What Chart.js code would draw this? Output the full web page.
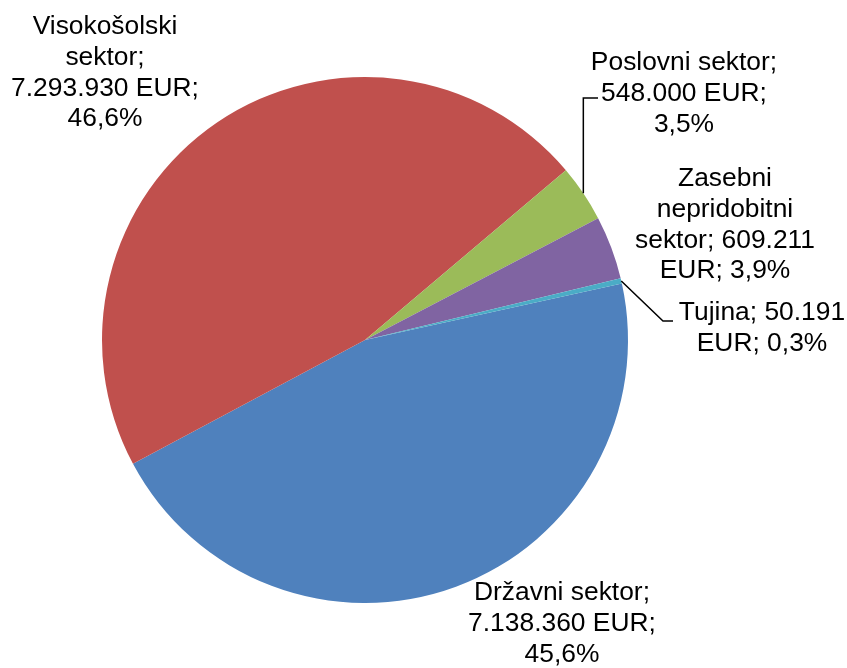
<!DOCTYPE html>
<html>
<head>
<meta charset="utf-8">
<script src="https://cdn.jsdelivr.net/npm/chart.js@4"></script>
<style>
  html, body { margin: 0; padding: 0; background: #ffffff; }
  canvas { display: block; }
</style>
</head>
<body>
<canvas id="pieChart" width="847" height="668"></canvas>
<script>
// Podatki
const sektorji = ["Državni sektor", "Visokošolski sektor", "Poslovni sektor", "Zasebni nepridobitni sektor", "Tujina"];
const zneski = [7138360, 7293930, 548000, 609211, 50191];
const barve = ["#4F81BD", "#C0504D", "#9BBB59", "#8064A2", "#4BACC6"];

// Postavitev oznak (sredina x, prva osnovnica y, najvecja sirina vrstice)
const oznake = [
  { x: 562, y: 600, w: 228 },
  { x: 105, y: 34, w: 198 },
  { x: 684, y: 70, w: 198, leader: [[584, 98], [598, 98]] },
  { x: 725, y: 186, w: 193 },
  { x: 762, y: 320, w: 178, leader: [[663, 321], [673, 321]] },
];

const FONT = "26.4px 'Liberation Sans', Arial, sans-serif";
const LINE_H = 30.8;

function formatEur(v) {
  return String(v).replace(/\B(?=(\d{3})+(?!\d))/g, ".");
}

function wrap(ctx, text, maxW) {
  const words = text.split(" ");
  const lines = [];
  let cur = "";
  words.forEach((w) => {
    const test = cur ? cur + " " + w : w;
    if (cur && ctx.measureText(test).width > maxW) {
      lines.push(cur);
      cur = w;
    } else {
      cur = test;
    }
  });
  if (cur) lines.push(cur);
  return lines;
}

const skupaj = zneski.reduce((a, b) => a + b, 0);

const labelPlugin = {
  id: "labelPlugin",
  afterDraw(chart) {
    const ctx = chart.ctx;
    const meta = chart.getDatasetMeta(0);
    ctx.save();
    ctx.font = FONT;
    ctx.fillStyle = "#000000";
    ctx.textAlign = "center";
    ctx.textBaseline = "alphabetic";
    meta.data.forEach((arc, i) => {
      const o = oznake[i];
      const pct = ((zneski[i] / skupaj) * 100).toFixed(1).replace(".", ",");
      const text = `${sektorji[i]}; ${formatEur(zneski[i])} EUR; ${pct}%`;
      const lines = wrap(ctx, text, o.w);
      lines.forEach((ln, k) => ctx.fillText(ln, o.x, o.y + k * LINE_H));

      if (o.leader) {
        const a = (arc.startAngle + arc.endAngle) / 2;
        const sx = arc.x + Math.cos(a) * arc.outerRadius;
        const sy = arc.y + Math.sin(a) * arc.outerRadius;
        ctx.beginPath();
        ctx.strokeStyle = "#000000";
        ctx.lineWidth = 1.5;
        ctx.moveTo(sx, sy);
        if (i === 2) {
          ctx.lineTo(sx, o.leader[0][1]);
        } else {
          ctx.lineTo(o.leader[0][0], o.leader[0][1]);
        }
        ctx.lineTo(o.leader[1][0], o.leader[1][1]);
        ctx.stroke();
      }
    });
    ctx.restore();
  },
};

new Chart(document.getElementById("pieChart"), {
  type: "pie",
  data: {
    labels: sektorji,
    datasets: [
      {
        data: zneski,
        backgroundColor: barve,
        borderWidth: 0,
      },
    ],
  },
  options: {
    responsive: false,
    animation: false,
    rotation: 77.6,
    layout: {
      padding: { left: 102, right: 219, top: 77, bottom: 65 },
    },
    plugins: {
      legend: { display: false },
      tooltip: { enabled: false },
    },
  },
  plugins: [labelPlugin],
});
</script>
</body>
</html>
